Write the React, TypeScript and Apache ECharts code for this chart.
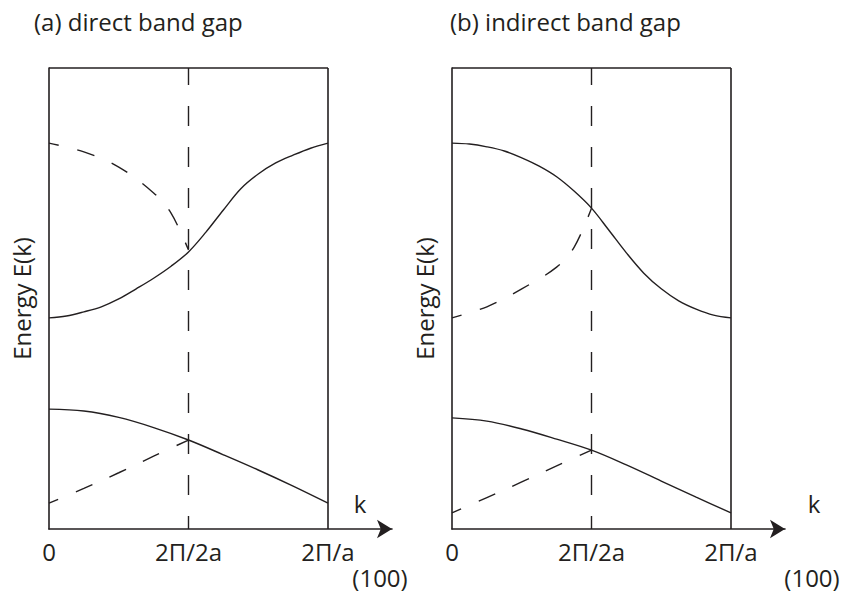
import React, { useEffect, useRef } from 'react';
import * as echarts from 'echarts';

// k-axis ticks (units of pi/a) and their labels
const kTicks = [0, 1, 2];
const kTickLabels = ['0', '2Π/2a', '2Π/a'];

// sample k positions
const kFine = [0, 0.125, 0.25, 0.375, 0.5, 0.625, 0.75, 0.875, 1, 1.125, 1.25, 1.375, 1.5, 1.625, 1.75, 1.875, 2];
const kFull = [0, 0.25, 0.5, 0.75, 1, 1.25, 1.5, 1.75, 2];
const kHalfCurved = [0, 0.25, 0.5, 0.75, 0.875, 1];
const kHalf = [0, 0.25, 0.5, 0.75, 1];

// (a) direct band gap — energies (0 = bottom, 1 = top of frame)
const aUpperSolid = [0.458, 0.462, 0.471, 0.482, 0.499, 0.521, 0.544, 0.57, 0.601, 0.644, 0.692, 0.738, 0.77, 0.794, 0.811, 0.826, 0.837];
const aUpperDashed = [0.837, 0.818, 0.785, 0.729, 0.685, 0.605];
const aLowerSolid = [0.26, 0.256, 0.242, 0.22, 0.193, 0.161, 0.128, 0.093, 0.056];
const aLowerDashed = [0.056, 0.088, 0.122, 0.158, 0.193];

// (b) indirect band gap
const bUpperSolid = [0.837, 0.835, 0.829, 0.82, 0.805, 0.787, 0.764, 0.733, 0.696, 0.648, 0.599, 0.555, 0.521, 0.495, 0.477, 0.464, 0.458];
const bUpperDashed = [0.458, 0.482, 0.521, 0.568, 0.611, 0.696];
const bLowerSolid = [0.241, 0.234, 0.217, 0.195, 0.171, 0.139, 0.104, 0.069, 0.035];
const bLowerDashed = [0.035, 0.068, 0.102, 0.137, 0.171];

const titles = ['(a) direct band gap', '(b) indirect band gap'];
const yName = 'Energy E(k)';
const kName = 'k';
const dirName = '(100)';

const INK = '#231f20';
const FONT = '"Open Sans", "Noto Sans", sans-serif';
const FS = 24;

export default function App() {
  const ref = useRef<HTMLDivElement>(null);

  useEffect(() => {
    document.body.style.margin = '0';
    const chart = echarts.init(ref.current!, null, { renderer: 'svg' });

    const curve = (g: number, xs: number[], ys: number[], dashed: boolean) => ({
      type: 'line',
      xAxisIndex: g,
      yAxisIndex: g,
      data: xs.map((x, i) => [x, ys[i]]),
      smooth: 0.35,
      symbol: 'none',
      silent: true,
      lineStyle: {
        color: INK,
        width: 1.4,
        type: dashed ? [18, 19] : 'solid',
        dashOffset: dashed ? 8 : 0,
      },
      z: 3,
    });

    const frame = (g: number) => ({
      type: 'line',
      xAxisIndex: g,
      yAxisIndex: g,
      data: [],
      symbol: 'none',
      silent: true,
      markLine: {
        silent: true,
        symbol: ['none', 'none'],
        label: { show: false },
        emphasis: { disabled: true },
        lineStyle: { color: INK, width: 1.6, type: 'solid' },
        data: [
          [{ coord: [kTicks[0], 1] }, { coord: [kTicks[2], 1] }],
          [{ coord: [kTicks[2], 0] }, { coord: [kTicks[2], 1] }],
        ],
      },
    });

    const zoneLine = (g: number) => ({
      type: 'line',
      xAxisIndex: g,
      yAxisIndex: g,
      data: [],
      symbol: 'none',
      silent: true,
      markLine: {
        silent: true,
        symbol: ['none', 'none'],
        label: { show: false },
        emphasis: { disabled: true },
        lineStyle: { color: INK, width: 1.4, type: [20, 21], dashOffset: 7 },
        data: [[{ coord: [kTicks[1], 0] }, { coord: [kTicks[1], 1] }]],
      },
    });

    const grids = [
      { left: 49, top: 68, width: 343, height: 461 },
      { left: 452, top: 68, width: 333, height: 461 },
    ];
    const pxPerUnit = 139.5;

    const xAxis = grids.map((g, i) => ({
      type: 'value',
      gridIndex: i,
      min: 0,
      max: g.width / pxPerUnit,
      interval: 1,
      axisLine: {
        show: true,
        symbol: ['none', 'arrow'],
        symbolSize: [14, 15],
        lineStyle: { color: INK, width: 1.6 },
      },
      axisTick: { show: false },
      splitLine: { show: false },
      axisLabel: {
        show: true,
        customValues: kTicks,
        margin: 10,
        color: INK,
        fontSize: FS,
        fontFamily: FONT,
        formatter: (v: number) => {
          const idx = kTicks.indexOf(Math.round(v * 1000) / 1000);
          return idx >= 0 ? kTickLabels[idx] : '';
        },
      },
    }));

    const yAxis = grids.map((_, i) => ({
      type: 'value',
      gridIndex: i,
      min: 0,
      max: 1,
      name: yName,
      nameLocation: 'middle',
      nameRotate: 90,
      nameGap: 16,
      nameTextStyle: { color: INK, fontSize: FS, fontFamily: FONT },
      axisLine: { show: true, lineStyle: { color: INK, width: 1.6 } },
      axisTick: { show: false },
      axisLabel: { show: false },
      splitLine: { show: false },
    }));

    const textStyle = { fill: INK, fontSize: FS, fontFamily: FONT, textAlign: 'center', textVerticalAlign: 'middle' };

    const option = {
      animation: false,
      backgroundColor: '#ffffff',
      title: [
        {
          text: titles[0],
          left: 29,
          top: 4,
          textStyle: { color: INK, fontSize: FS, fontWeight: 'normal', fontFamily: FONT },
        },
        {
          text: titles[1],
          left: 445,
          top: 4,
          textStyle: { color: INK, fontSize: FS, fontWeight: 'normal', fontFamily: FONT },
        },
      ],
      grid: grids,
      xAxis,
      yAxis,
      graphic: [
        { type: 'text', x: 360, y: 503, style: { ...textStyle, text: kName } },
        { type: 'text', x: 814, y: 503, style: { ...textStyle, text: kName } },
        { type: 'text', x: 380, y: 577, style: { ...textStyle, text: dirName } },
        { type: 'text', x: 812, y: 577, style: { ...textStyle, text: dirName } },
      ],
      series: [
        frame(0),
        zoneLine(0),
        curve(0, kFine, aUpperSolid, false),
        curve(0, kHalfCurved, aUpperDashed, true),
        curve(0, kFull, aLowerSolid, false),
        curve(0, kHalf, aLowerDashed, true),
        frame(1),
        zoneLine(1),
        curve(1, kFine, bUpperSolid, false),
        curve(1, kHalfCurved, bUpperDashed, true),
        curve(1, kFull, bLowerSolid, false),
        curve(1, kHalf, bLowerDashed, true),
      ],
    };

    chart.setOption(option as any);
    return () => chart.dispose();
  }, []);

  return (
    <div
      ref={ref}
      style={{ position: 'fixed', left: 0, top: 0, width: 844, height: 594, background: '#fff' }}
    />
  );
}
